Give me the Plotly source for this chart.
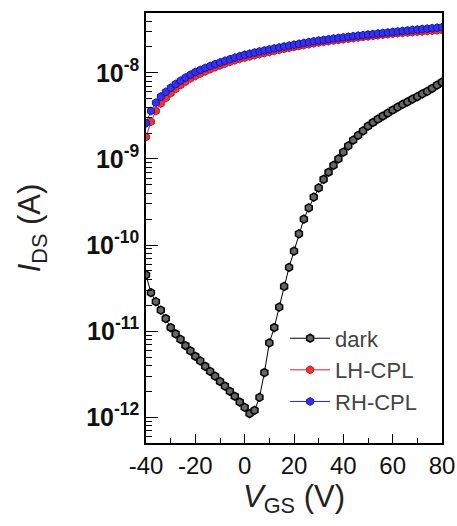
import plotly.graph_objects as go

V_dark = list(range(-40, 81, 2))
I_dark = [4.5e-11, 2.8e-11, 2.2e-11, 1.75e-11, 1.4e-11, 1.1e-11, 9.3e-12, 8.0e-12, 6.8e-12, 5.9e-12,
          5.1e-12, 4.5e-12, 3.9e-12, 3.4e-12, 3.0e-12, 2.6e-12, 2.3e-12, 2.0e-12, 1.75e-12, 1.5e-12,
          1.3e-12, 1.1e-12, 1.2e-12, 1.7e-12, 3.3e-12, 7.3e-12, 1.1e-11, 1.9e-11, 3.3e-11, 5.5e-11,
          8.5e-11, 1.35e-10, 2.0e-10, 2.7e-10, 3.6e-10, 4.6e-10, 5.8e-10, 7.0e-10, 8.4e-10, 1.0e-9,
          1.2e-9, 1.42e-9, 1.65e-9, 1.88e-9, 2.12e-9, 2.4e-9, 2.65e-9, 2.9e-9, 3.15e-9, 3.4e-9,
          3.7e-9, 4.0e-9, 4.3e-9, 4.6e-9, 4.95e-9, 5.3e-9, 5.7e-9, 6.1e-9, 6.6e-9, 7.2e-9, 7.8e-9]

V_light = list(range(-40, 81, 2))
I_lh = [1.8e-9, 2.7e-9, 3.6e-9, 4.4e-9, 5.1e-9, 5.8e-9, 6.5e-9, 7.2e-9, 7.9e-9, 8.6e-9,
        9.2e-9, 9.8e-9, 1.04e-8, 1.1e-8, 1.16e-8, 1.22e-8, 1.28e-8, 1.34e-8, 1.4e-8, 1.45e-8,
        1.5e-8, 1.55e-8, 1.6e-8, 1.65e-8, 1.7e-8, 1.75e-8, 1.8e-8, 1.85e-8, 1.9e-8, 1.95e-8,
        2.0e-8, 2.05e-8, 2.1e-8, 2.15e-8, 2.2e-8, 2.25e-8, 2.29e-8, 2.33e-8, 2.37e-8, 2.41e-8,
        2.45e-8, 2.49e-8, 2.53e-8, 2.57e-8, 2.61e-8, 2.65e-8, 2.69e-8, 2.73e-8, 2.77e-8, 2.81e-8,
        2.85e-8, 2.88e-8, 2.91e-8, 2.94e-8, 2.97e-8, 3.0e-8, 3.03e-8, 3.06e-8, 3.09e-8, 3.12e-8, 3.15e-8]
I_rh = [2.6e-9, 3.6e-9, 4.5e-9, 5.3e-9, 6.0e-9, 6.7e-9, 7.4e-9, 8.1e-9, 8.8e-9, 9.5e-9,
        1.02e-8, 1.08e-8, 1.14e-8, 1.2e-8, 1.26e-8, 1.32e-8, 1.38e-8, 1.44e-8, 1.5e-8, 1.56e-8,
        1.62e-8, 1.67e-8, 1.72e-8, 1.77e-8, 1.82e-8, 1.87e-8, 1.92e-8, 1.97e-8, 2.02e-8, 2.07e-8,
        2.12e-8, 2.17e-8, 2.22e-8, 2.27e-8, 2.32e-8, 2.37e-8, 2.41e-8, 2.45e-8, 2.5e-8, 2.54e-8,
        2.58e-8, 2.62e-8, 2.66e-8, 2.7e-8, 2.74e-8, 2.78e-8, 2.82e-8, 2.86e-8, 2.9e-8, 2.94e-8,
        2.98e-8, 3.02e-8, 3.06e-8, 3.1e-8, 3.14e-8, 3.18e-8, 3.22e-8, 3.26e-8, 3.3e-8, 3.34e-8, 3.38e-8]

x_ticks = [-40, -20, 0, 20, 40, 60, 80]
x_ticktext = ["-40", "-20", "0", "20", "40", "60", "80"]
y_ticks = [1e-12, 1e-11, 1e-10, 1e-9, 1e-8]
y_ticktext = ["<b>10<sup>-12</sup></b>", "<b>10<sup>-11</sup></b>", "<b>10<sup>-10</sup></b>",
              "<b>10<sup>-9</sup></b>", "<b>10<sup>-8</sup></b>"]
y_minor = [m * 10.0 ** e for e in range(-13, -6) for m in range(2, 10)]

fig = go.Figure()
fig.add_trace(go.Scatter(x=V_dark, y=I_dark, name="dark", mode="lines+markers",
                         line=dict(color="black", width=1),
                         marker=dict(symbol="hexagon", size=8, color="#666666",
                                     line=dict(color="black", width=1.5))))
fig.add_trace(go.Scatter(x=V_light, y=I_lh, name="LH-CPL", mode="lines+markers",
                         line=dict(color="#cc2222", width=1),
                         marker=dict(symbol="hexagon", size=8, color="#ee3333",
                                     line=dict(color="#cc1111", width=1))))
fig.add_trace(go.Scatter(x=V_light, y=I_rh, name="RH-CPL", mode="lines+markers",
                         line=dict(color="#2222cc", width=1),
                         marker=dict(symbol="hexagon", size=8, color="#3333ee",
                                     line=dict(color="#1111bb", width=1))))
# minor ticks axis
fig.add_trace(go.Scatter(x=[None], y=[None], yaxis="y2", showlegend=False, hoverinfo="skip"))

yr = [-12.30, -7.305]
fig.update_layout(
    width=457, height=526,
    margin=dict(l=146, r=15, t=13, b=83),
    plot_bgcolor="white", paper_bgcolor="white",
    font=dict(family="Liberation Sans, Arial, sans-serif", color="black"),
    xaxis=dict(range=[-40, 80], tickvals=x_ticks, ticktext=x_ticktext, ticks="inside", ticklen=9,
               tickwidth=1.2, automargin=False,
               tickcolor="black", showline=True, linecolor="black", linewidth=1.5, mirror=True,
               showgrid=False, zeroline=False,
               tickfont=dict(size=24, color="#111"),
               minor=dict(dtick=10, ticks="inside", ticklen=5, tickcolor="black", showgrid=False),
               title=dict(text="<i>V</i><sub>GS</sub> (V)", font=dict(size=31, color="#222"), standoff=6)),
    yaxis=dict(type="log", range=yr, tickvals=y_ticks, ticktext=y_ticktext, ticks="inside",
               ticklen=12, tickwidth=1.2, tickcolor="black", showline=True, linecolor="black",
               linewidth=1.5, mirror=True, showgrid=False, zeroline=False, automargin=False,
               tickfont=dict(size=25, color="#111"),
               title=dict(text="<i>I</i><sub>DS</sub> (A)", font=dict(size=31, color="#222"), standoff=36)),
    yaxis2=dict(type="log", range=yr, overlaying="y", side="left", tickvals=y_minor,
                showticklabels=False, ticks="inside", ticklen=6, tickcolor="black",
                showgrid=False, zeroline=False, showline=False, automargin=False),
    legend=dict(x=0.47, y=0.292, xanchor="left", yanchor="top", bgcolor="rgba(0,0,0,0)",
                font=dict(size=22, color="#444"), traceorder="normal", itemwidth=40),
)
fig.write_html("out.html")
